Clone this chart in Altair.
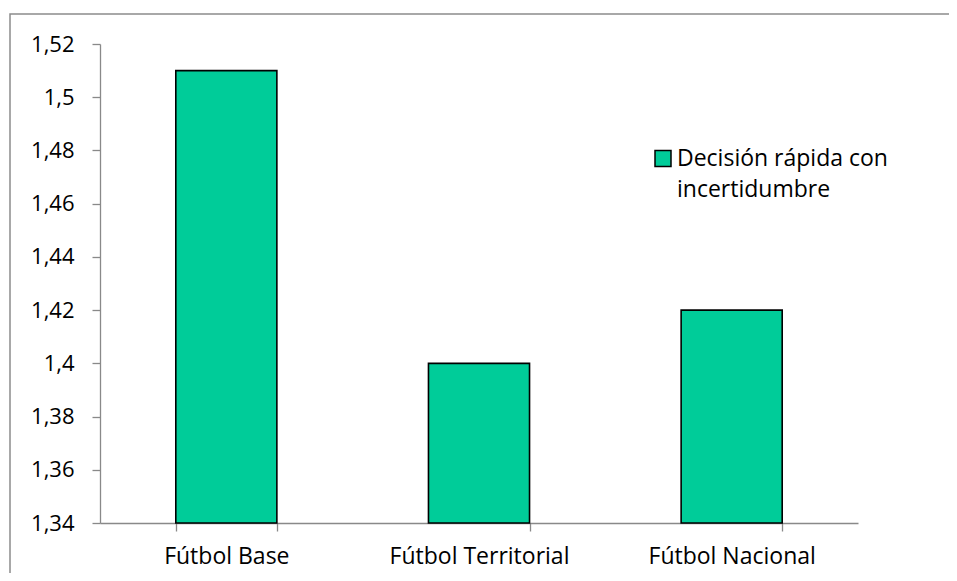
import altair as alt
import pandas as pd

categories = ["Fútbol Base", "Fútbol Territorial", "Fútbol Nacional"]
values = [1.51, 1.40, 1.42]
legend_lines = ["Decisión rápida con", "incertidumbre"]
series_name = " ".join(legend_lines)
y_ticks = [1.34, 1.36, 1.38, 1.40, 1.42, 1.44, 1.46, 1.48, 1.50, 1.52]
y_min, y_max = 1.34, 1.52

df = pd.DataFrame({
    "cat": categories,
    "value": values,
    "base": [y_min] * len(categories),
    "serie": [series_name] * len(categories),
})
leg_df = pd.DataFrame({"serie": [series_name]})

FONT = "Open Sans"
W, H = 758, 479
color_scale = alt.Scale(domain=[series_name], range=["#00CC99"])

bars = alt.Chart(df).mark_bar(stroke="black", strokeWidth=1.6).encode(
    x=alt.X("cat:N", sort=categories, title=None,
            scale=alt.Scale(paddingInner=0.6, paddingOuter=0.3),
            axis=alt.Axis(labelAngle=0, tickBand="extent", tickSize=8,
                          labelPadding=14, labelFontSize=23, labelFont=FONT,
                          labelColor="black", domainColor="#898989",
                          tickColor="#898989", domainWidth=1.3, tickWidth=1.3)),
    y=alt.Y("value:Q", title=None,
            scale=alt.Scale(domain=[y_min, y_max], zero=False, nice=False),
            axis=alt.Axis(values=y_ticks, tickSize=8, labelPadding=18,
                          labelExpr="replace(format(datum.value, '.2~f'), '.', ',')",
                          labelFontSize=22, labelFont=FONT, labelColor="black",
                          domainColor="#898989", tickColor="#898989",
                          domainWidth=1.3, tickWidth=1.3, grid=False)),
    y2="base:Q",
    color=alt.Color("serie:N", scale=color_scale, legend=None),
)

leg_symbol = alt.Chart(leg_df).mark_point(
    shape="square", filled=True, size=256, stroke="black", strokeWidth=1.5,
    opacity=1,
).encode(
    x=alt.value(563), y=alt.value(114.5),
    color=alt.Color("serie:N", scale=color_scale, legend=None),
)

leg_text = alt.Chart(leg_df).mark_text(
    align="left", baseline="alphabetic", font=FONT, fontSize=23,
    color="black", lineHeight=31,
).encode(
    x=alt.value(577), y=alt.value(122),
    text=alt.value(legend_lines),
)

border = alt.Chart(leg_df).mark_rect(fill="transparent", stroke="#8c8c8c",
                                     strokeWidth=1.5).encode(
    x=alt.value(-90), x2=alt.value(W + 130),
    y=alt.value(-30), y2=alt.value(H + 100),
)

chart = alt.layer(border, bars, leg_symbol, leg_text).properties(
    width=W, height=H,
    autosize=alt.AutoSizeParams(type="none"),
    padding={"left": 92, "top": 36, "right": 91, "bottom": 50},
).configure_view(stroke=None, strokeWidth=0)

chart.save("out.html", embed_options={"renderer": "svg", "actions": False})
